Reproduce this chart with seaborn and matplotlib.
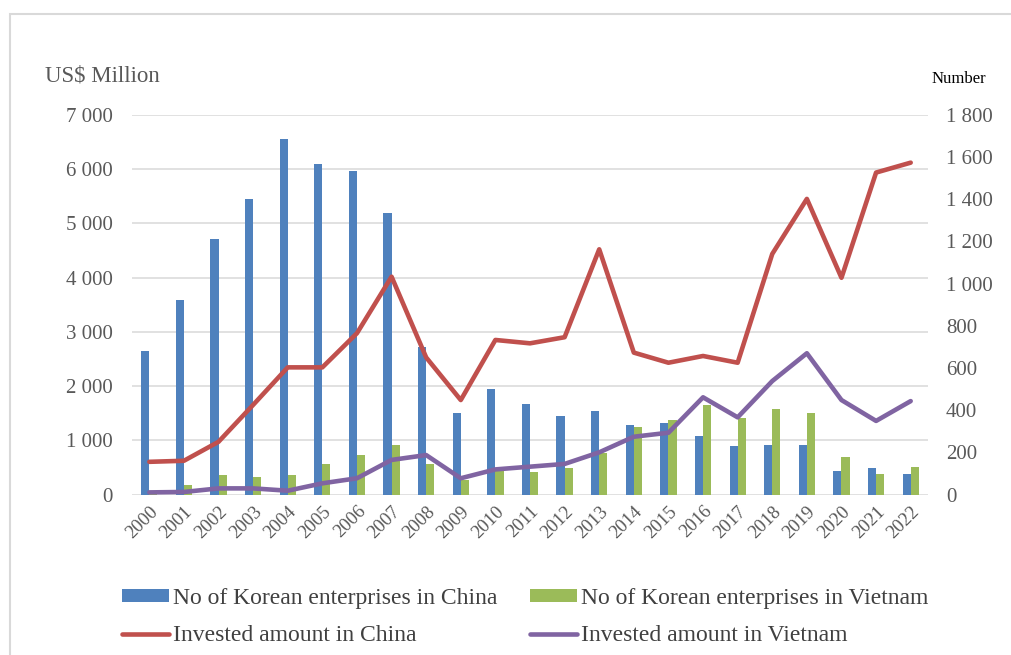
import numpy as np
import pandas as pd
import matplotlib
matplotlib.use("Agg")
import matplotlib.pyplot as plt
import seaborn as sns
from matplotlib.patches import Patch, Rectangle
from matplotlib.lines import Line2D

years = [str(y) for y in range(2000, 2023)]
# bars (read against the left scale)
ent_china = [2650, 3580, 4710, 5450, 6550, 6100, 5970, 5200, 2720, 1500, 1950, 1670,
             1440, 1545, 1280, 1310, 1070, 890, 910, 910, 440, 490, 385]
ent_vietnam = [30, 170, 360, 330, 360, 570, 725, 910, 570, 260, 450, 410,
               480, 760, 1250, 1380, 1650, 1420, 1585, 1505, 695, 380, 510]
# lines (read against the right scale)
inv_china = [155, 160, 250, 425, 603, 603, 765, 1033, 650, 448, 733, 717,
             746, 1163, 673, 625, 657, 625, 1141, 1402, 1028, 1527, 1574]
inv_vietnam = [10, 12, 29, 29, 18, 53, 77, 164, 187, 77, 119, 132,
               145, 200, 274, 293, 461, 366, 538, 670, 448, 349, 443]

series_bar = ["No of Korean enterprises in China", "No of Korean enterprises in Vietnam"]
series_line = ["Invested amount in China", "Invested amount in Vietnam"]
left_ticks = [0, 1000, 2000, 3000, 4000, 5000, 6000, 7000]
left_tick_labels = ["0", "1 000", "2 000", "3 000", "4 000", "5 000", "6 000", "7 000"]
right_ticks = [0, 200, 400, 600, 800, 1000, 1200, 1400, 1600, 1800]
right_tick_labels = ["0", "200", "400", "600", "800", "1 000", "1 200", "1 400", "1 600", "1 800"]
left_title = "US$ Million"
right_title = "Number"

c_blue, c_green, c_red, c_purple = "#4F81BD", "#9BBB59", "#C0504D", "#8064A2"
grey_txt = "#595959"

sns.set_theme(style="white")
plt.rcParams["font.family"] = ["Liberation Serif", "DejaVu Serif"]

W, H = 1011, 655
fig = plt.figure(figsize=(W / 100, H / 100), dpi=100)
ax = fig.add_axes([132 / W, 1 - 494.5 / H, (928 - 132) / W, (494.5 - 115) / H])

df = pd.DataFrame({
    "year": years * 2,
    "value": ent_china + ent_vietnam,
    "series": [series_bar[0]] * len(years) + [series_bar[1]] * len(years),
})
sns.barplot(data=df, x="year", y="value", hue="series", hue_order=series_bar,
            palette=[c_blue, c_green], saturation=1, width=0.47, dodge=True,
            ax=ax, legend=False, linewidth=0, errorbar=None)

ax.set_ylim(0, 7000)
ax.set_yticks(left_ticks)
ax.set_yticklabels(left_tick_labels)
ax.yaxis.grid(True, color="#D9D9D9", linewidth=1.1)
ax.xaxis.grid(False)
ax.set_axisbelow(True)
for s in ax.spines.values():
    s.set_visible(False)
ax.set_xlabel("")
ax.set_ylabel("")
ax.tick_params(axis="y", length=0, pad=14, labelsize=15, labelcolor=grey_txt)
ax.tick_params(axis="x", length=0, pad=6, labelsize=13.5, labelcolor=grey_txt)
for lab in ax.get_xticklabels():
    lab.set_rotation(45)
    lab.set_ha("right")
    lab.set_va("top")
    lab.set_rotation_mode("anchor")

ax2 = ax.twinx()
xs = np.arange(len(years))
sns.lineplot(x=xs, y=inv_china, ax=ax2, color=c_red, linewidth=3.3, legend=False)
sns.lineplot(x=xs, y=inv_vietnam, ax=ax2, color=c_purple, linewidth=3.3, legend=False)
for ln in ax2.lines:
    ln.set_solid_capstyle("round")
    ln.set_solid_joinstyle("round")
ax2.set_ylim(0, 1800)
ax2.set_yticks(right_ticks)
ax2.set_yticklabels(right_tick_labels)
ax2.grid(False)
for s in ax2.spines.values():
    s.set_visible(False)
ax2.set_ylabel("")
ax2.tick_params(axis="y", length=0, pad=13, labelsize=15, labelcolor=grey_txt)
ax.set_xlim(-0.5, len(years) - 0.5)

fig.text(45 / W, 1 - 76 / H, left_title, fontsize=16.5, color=grey_txt, va="center", ha="left")
fig.text(932 / W, 1 - 79 / H, right_title, fontsize=12, color="#000000", va="center", ha="left")

handles = [
    Patch(facecolor=c_blue, edgecolor="none"),
    Line2D([0], [0], color=c_red, linewidth=3.3, solid_capstyle="round"),
    Patch(facecolor=c_green, edgecolor="none"),
    Line2D([0], [0], color=c_purple, linewidth=3.3, solid_capstyle="round"),
]
labels = [series_bar[0], series_line[0], series_bar[1], series_line[1]]
fig.legend(handles, labels, ncol=2, loc="center left",
           bbox_to_anchor=(122 / W, 1 - 617 / H), frameon=False,
           borderpad=0, borderaxespad=0, handlelength=2.0, handleheight=0.42,
           handletextpad=0.15, columnspacing=1.4, labelspacing=0.68,
           prop={"family": "Liberation Serif", "size": 17}, labelcolor="#404040")

fig.add_artist(Rectangle((10 / W, -0.05), 1.2, 1 - 13.5 / H + 0.05,
                         transform=fig.transFigure, fill=False,
                         edgecolor="#D9D9D9", linewidth=1.5))

fig.savefig("out.png", dpi=100, facecolor="white")
